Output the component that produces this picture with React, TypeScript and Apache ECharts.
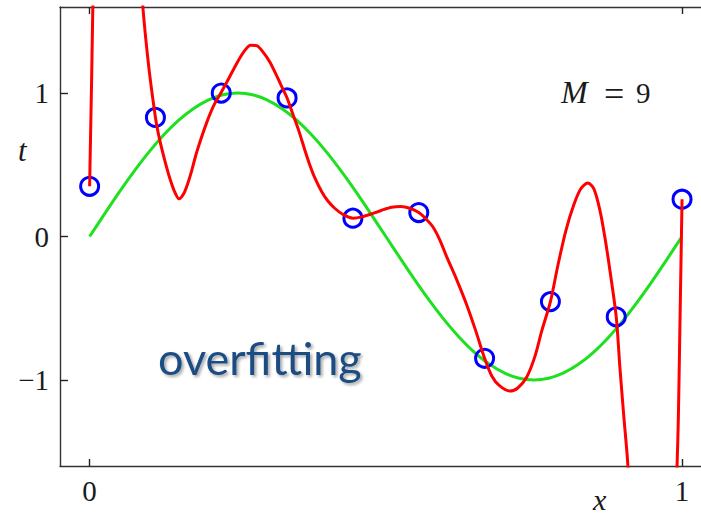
import React, { useEffect, useRef } from "react";
import * as echarts from "echarts";

// Axis ticks
const xTicks = [0, 1];
const yTicks = [-1, 0, 1];

// Observed data points (blue circles)
const pointX = [0, 0.1111, 0.2222, 0.3333, 0.4444, 0.5556, 0.6667, 0.7778, 0.8889, 1];
const pointT = [0.35, 0.83, 1.0, 0.966, 0.128, 0.167, -0.849, -0.454, -0.56, 0.26];

// Green curve (true function)
const greenX = [0, 0.025, 0.05, 0.075, 0.1, 0.125, 0.15, 0.175, 0.2, 0.225, 0.25, 0.275, 0.3, 0.325, 0.35, 0.375, 0.4, 0.425, 0.45, 0.475, 0.5, 0.525, 0.55, 0.575, 0.6, 0.625, 0.65, 0.675, 0.7, 0.725, 0.75, 0.775, 0.8, 0.825, 0.85, 0.875, 0.9, 0.925, 0.95, 0.975, 1];
const greenY = [0, 0.156, 0.309, 0.454, 0.588, 0.707, 0.809, 0.891, 0.951, 0.988, 1, 0.988, 0.951, 0.891, 0.809, 0.707, 0.588, 0.454, 0.309, 0.156, 0, -0.156, -0.309, -0.454, -0.588, -0.707, -0.809, -0.891, -0.951, -0.988, -1, -0.988, -0.951, -0.891, -0.809, -0.707, -0.588, -0.454, -0.309, -0.156, 0];

// Red curve (M = 9 fit) (values beyond the frame are clipped)
const redX = [0, 0.0058, 0.012, 0.05, 0.0875, 0.0979, 0.1111, 0.1182, 0.1266, 0.1351, 0.1435, 0.1511, 0.1587, 0.1655, 0.1722, 0.179, 0.1858, 0.1976, 0.2094, 0.2222, 0.2364, 0.2499, 0.2617, 0.2718, 0.282, 0.2921, 0.3039, 0.3157, 0.3259, 0.3333, 0.3428, 0.353, 0.3631, 0.3715, 0.38, 0.3918, 0.4019, 0.4137, 0.4272, 0.4444, 0.4593, 0.4762, 0.4931, 0.51, 0.5252, 0.5404, 0.5556, 0.5674, 0.5793, 0.591, 0.6028, 0.6197, 0.6366, 0.6518, 0.6667, 0.6788, 0.6923, 0.7092, 0.7227, 0.7379, 0.7514, 0.7632, 0.7778, 0.7903, 0.8038, 0.8173, 0.8291, 0.8409, 0.851, 0.8612, 0.8696, 0.8781, 0.8889, 0.895, 0.9022, 0.9085, 0.913, 0.987, 0.9916, 0.9937, 0.9963, 1];
const redY = [0.35, 1.7, 4, 6, 1.75, 1.254, 0.83, 0.675, 0.535, 0.41, 0.312, 0.263, 0.298, 0.368, 0.458, 0.563, 0.654, 0.794, 0.912, 1.006, 1.114, 1.219, 1.296, 1.334, 1.331, 1.289, 1.219, 1.121, 1.031, 0.966, 0.856, 0.738, 0.605, 0.5, 0.41, 0.312, 0.249, 0.197, 0.155, 0.128, 0.137, 0.158, 0.183, 0.204, 0.209, 0.197, 0.167, 0.124, 0.068, -0.023, -0.142, -0.302, -0.477, -0.658, -0.849, -0.972, -1.042, -1.077, -1.056, -0.979, -0.839, -0.658, -0.454, -0.204, 0.04, 0.221, 0.333, 0.373, 0.333, 0.186, -0.002, -0.232, -0.56, -0.907, -1.279, -1.593, -2.1, -2.1, -1.593, -1.279, -0.651, 0.26];

const SERIF = '"Liberation Serif", "DejaVu Serif", serif';

export default function App() {
  const ref = useRef<HTMLDivElement>(null);
  useEffect(() => {
    if (!ref.current) return;
    const chart = echarts.init(ref.current, undefined, { renderer: "svg" });
    const axisLineStyle = { color: "#333", width: 1.4 };
    const tickStyle = { color: "#222", width: 1.4 };
    const fmt = (v: number) => String(v).replace("-", "\u2212");
    const option: any = {
      animation: false,
      backgroundColor: "#fff",
      grid: { left: 60, right: 0, top: 7, bottom: 50, containLabel: false },
      xAxis: [
        {
          type: "value",
          min: -0.05,
          max: 1.032,
          position: "bottom",
          axisLine: { show: true, onZero: false, lineStyle: axisLineStyle },
          axisTick: { show: true, inside: true, length: 7, customValues: xTicks, lineStyle: tickStyle },
          axisLabel: {
            show: true,
            customValues: xTicks,
            margin: 10,
            fontFamily: SERIF,
            fontSize: 29,
            color: "#1a1a1a",
            formatter: fmt,
          },
          splitLine: { show: false },
        },
        {
          type: "value",
          min: -0.05,
          max: 1.032,
          position: "top",
          axisLine: { show: true, onZero: false, lineStyle: axisLineStyle },
          axisTick: { show: true, inside: true, length: 7, customValues: xTicks, lineStyle: tickStyle },
          axisLabel: { show: false },
          splitLine: { show: false },
        },
      ],
      yAxis: [
        {
          type: "value",
          min: -1.6,
          max: 1.6,
          position: "left",
          axisLine: { show: true, onZero: false, lineStyle: axisLineStyle },
          axisTick: { show: true, inside: true, length: 8, customValues: yTicks, lineStyle: tickStyle },
          axisLabel: {
            show: true,
            customValues: yTicks,
            margin: 11,
            fontFamily: SERIF,
            fontSize: 29,
            color: "#1a1a1a",
            formatter: fmt,
          },
          splitLine: { show: false },
        },
      ],
      series: [
        {
          type: "line",
          data: greenX.map((x, i) => [x, greenY[i]]),
          smooth: 0.3,
          symbol: "none",
          lineStyle: { color: "#1fe01f", width: 3 },
          clip: true,
          z: 2,
        },
        {
          type: "scatter",
          data: pointX.map((x, i) => [x, pointT[i]]),
          symbol: "circle",
          symbolSize: 18,
          itemStyle: { color: "rgba(0,0,0,0)", borderColor: "#0000ff", borderWidth: 3, opacity: 1 },
          z: 3,
        },
        {
          type: "line",
          data: redX.map((x, i) => [x, redY[i]]),
          smooth: 0.3,
          symbol: "none",
          lineStyle: { color: "#ff0000", width: 3 },
          clip: true,
          z: 4,
        },
      ],
      graphic: [
        {
          type: "text",
          left: 18,
          top: 135,
          style: { text: "t", fontFamily: SERIF, fontStyle: "italic", fontSize: 31, fill: "#1a1a1a" },
        },
        {
          type: "text",
          left: 593,
          top: 484,
          style: { text: "x", fontFamily: SERIF, fontStyle: "italic", fontSize: 30, fill: "#1a1a1a" },
        },
        {
          type: "text",
          left: 561,
          top: 76,
          style: { text: "M", fontFamily: SERIF, fontStyle: "italic", fontSize: 32, fill: "#1a1a1a" },
        },
        {
          type: "text",
          left: 604,
          top: 76,
          style: { text: "=", fontFamily: SERIF, fontSize: 36, fill: "#1a1a1a" },
        },
        {
          type: "text",
          left: 636,
          top: 78,
          style: { text: "9", fontFamily: SERIF, fontSize: 29, fill: "#1a1a1a" },
        },
        {
          type: "text",
          left: 158,
          top: 335,
          style: {
            text: "overfitting",
            fontFamily: "Lato, 'Open Sans', sans-serif",
            fontSize: 45,
            fill: "#1f4e82",
            textShadowColor: "rgba(0,0,0,0.35)",
            textShadowBlur: 3,
            textShadowOffsetX: 2,
            textShadowOffsetY: 2,
          },
        },
      ],
    };
    chart.setOption(option);
    return () => chart.dispose();
  }, []);
  return (
    <div
      ref={ref}
      style={{ position: "absolute", left: 0, top: 0, width: 701, height: 516 }}
    />
  );
}
